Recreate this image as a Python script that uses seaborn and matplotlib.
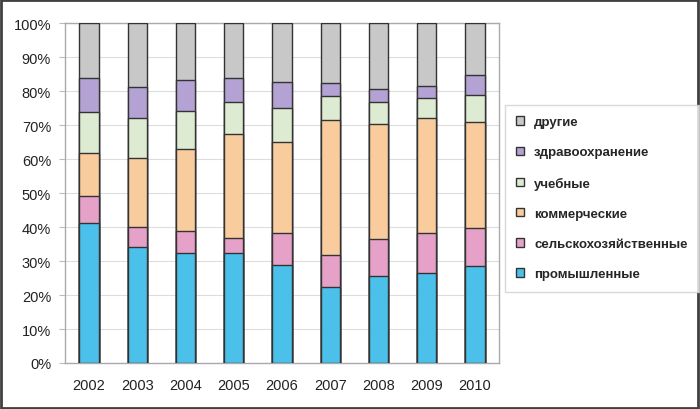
import matplotlib
matplotlib.use("Agg")
import matplotlib.pyplot as plt
from matplotlib.patches import Patch, Rectangle
import numpy as np
import pandas as pd
import seaborn as sns

years = ["2002", "2003", "2004", "2005", "2006", "2007", "2008", "2009", "2010"]
categories = ["промышленные", "сельскохозяйственные", "коммерческие",
              "учебные", "здравоохранение", "другие"]
# shares in percent
industrial   = [41.3, 34.2, 32.3, 32.3, 28.9, 22.4, 25.7, 26.4, 28.6]
agricultural = [7.9, 5.7, 6.4, 4.5, 9.2, 9.3, 10.8, 11.7, 11.2]
commercial   = [12.5, 20.5, 24.2, 30.5, 26.9, 39.8, 33.7, 34.0, 31.1]
educational  = [12.0, 11.7, 11.2, 9.4, 10.0, 6.9, 6.5, 5.9, 7.8]
healthcare   = [10.0, 9.1, 9.0, 7.0, 7.6, 3.9, 4.0, 3.4, 5.9]
other        = [16.3, 18.8, 16.9, 16.3, 17.4, 17.7, 19.3, 18.6, 15.4]

colors = ["#4BC0EA", "#E6A1C9", "#F9CC9D", "#DCEBD2", "#B3A2D3", "#C8C8C8"]
series = [industrial, agricultural, commercial, educational, healthcare, other]

sns.set_style("white")
plt.rcParams["font.family"] = ["Liberation Sans", "DejaVu Sans"]

fig = plt.figure(figsize=(7, 4.1), dpi=100)
ax = fig.add_axes([65 / 700, 1 - 364 / 410, 434 / 700, 340 / 410])

cum = np.cumsum(np.array(series), axis=0)
for i in range(len(series) - 1, -1, -1):
    df = pd.DataFrame({"year": years, "value": cum[i]})
    sns.barplot(data=df, x="year", y="value", color=colors[i], width=0.4,
                edgecolor="#333333", linewidth=1.0, ax=ax, zorder=3,
                saturation=1)

ax.set_xlim(-0.5, len(years) - 0.5)
ax.set_ylim(0, 100)
ax.set_yticks(np.arange(0, 101, 10))
ax.set_yticklabels([f"{v}%" for v in range(0, 101, 10)], fontsize=10.5, color="#222222")
ax.set_xlabel("")
ax.set_ylabel("")
ax.tick_params(axis="x", labelsize=10.5, labelcolor="#222222", length=0, pad=11)
ax.set_xticks(np.arange(-0.5, len(years), 1.0), minor=True)
ax.tick_params(axis="x", which="minor", length=4, color="#BBBBBB", direction="out")
ax.tick_params(axis="y", length=4, color="#BBBBBB", direction="out", left=True, pad=6)
ax.grid(axis="y", color="#DDDDDD", linewidth=0.8, zorder=0)
ax.set_axisbelow(True)
for s in ax.spines.values():
    s.set_color("#AAAAAA")
    s.set_linewidth(1.0)
    s.set_visible(True)

handles = [Patch(facecolor=colors[i], edgecolor="#333333", linewidth=1.0,
                 label=categories[i]) for i in range(len(categories) - 1, -1, -1)]
leg = fig.legend(handles=handles, loc="upper left",
                 bbox_to_anchor=(505 / 700, 1 - 106 / 410), borderaxespad=0,
                 frameon=True, fancybox=False, edgecolor="#D0D0D0",
                 prop={"size": 9.5, "weight": "bold"}, labelspacing=1.38,
                 handlelength=0.6, handleheight=0.6, handletextpad=0.75,
                 borderpad=0.85)
leg.get_frame().set_linewidth(1.0)

fig.patches.append(Rectangle((0.002, 0.003), 0.995, 0.994, transform=fig.transFigure,
                             fill=False, edgecolor="#404040", linewidth=2))

fig.savefig("out.png", dpi=100)
